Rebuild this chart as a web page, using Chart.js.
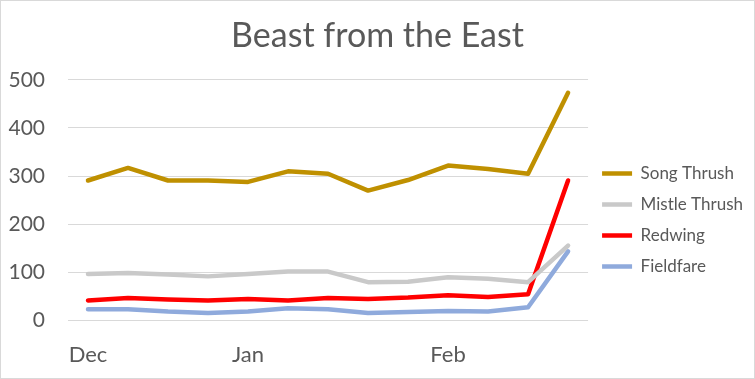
<!DOCTYPE html>
<html>
<head>
<meta charset="utf-8">
<script src="https://cdn.jsdelivr.net/npm/chart.js@4/dist/chart.umd.min.js"></script>
<style>
  html, body { margin: 0; padding: 0; background: #fff; }
  #wrap { width: 755px; height: 379px; }
</style>
</head>
<body>
<div id="wrap"><canvas id="beastChart" width="755" height="379"></canvas></div>
<script>
// weekly counts, Dec -> end of Feb
const weeks = ['Dec', '', '', '', 'Jan', '', '', '', '', 'Feb', '', '', ''];
const songThrush   = [291, 317, 291, 291, 288, 310, 305, 270, 292, 322, 315, 305, 473];
const mistleThrush = [97, 99, 96, 92, 97, 102, 102, 80, 81, 90, 87, 80, 156];
const redwing      = [42, 47, 44, 42, 45, 42, 47, 45, 48, 53, 49, 55, 291];
const fieldfare    = [24, 24, 19, 16, 19, 26, 24, 16, 18, 20, 19, 28, 144];

const textGrey = '#595959';

const makeSet = (label, data, color) => ({
    label: label,
    data: data,
    borderColor: color,
    backgroundColor: color,
    borderWidth: 4.5,
    pointRadius: 0,
    tension: 0,
    borderCapStyle: 'round',
    borderJoinStyle: 'round'
});

const frame = {
    id: 'frame',
    beforeDraw(chart) {
        const ctx = chart.ctx;
        ctx.save();
        ctx.fillStyle = '#fff';
        ctx.fillRect(0, 0, chart.width, chart.height);
        ctx.strokeStyle = '#d9d9d9';
        ctx.lineWidth = 1;
        ctx.strokeRect(0.5, 0.5, chart.width - 1, chart.height - 1);
        ctx.restore();
    }
};

let chart = new Chart(document.getElementById('beastChart'), {
    type: 'line',
    data: {
        labels: weeks,
        datasets: [
            makeSet('Song Thrush', songThrush, '#bf9000'),
            makeSet('Mistle Thrush', mistleThrush, '#c9c9c9'),
            makeSet('Redwing', redwing, '#ff0000'),
            makeSet('Fieldfare', fieldfare, '#8faadc')
        ]
    },
    options: {
        responsive: false,
        animation: false,
        layout: { padding: { left: 2, right: 2, top: 10, bottom: 0 } },
        plugins: {
            title: {
                display: true,
                text: 'Beast from the East',
                color: textGrey,
                font: { family: 'Lato', size: 34, weight: 'normal' },
                padding: { top: 6, bottom: 23 }
            },
            legend: {
                position: 'right',
                align: 'start',
                title: {
                    display: true,
                    text: ' ',
                    font: { size: 10 },
                    padding: { top: 0, bottom: 129 }
                },
                labels: {
                    usePointStyle: true,
                    pointStyle: 'line',
                    pointStyleWidth: 30,
                    color: textGrey,
                    font: { family: 'Lato', size: 17 },
                    padding: 14,
                    boxHeight: 4
                }
            },
            tooltip: { enabled: false }
        },
        scales: {
            x: {
                offset: true,
                grid: { display: false, drawTicks: false },
                border: { display: false },
                afterFit: (scale) => {
                    scale.paddingLeft = 0;
                    scale.paddingRight = 0;
                    scale.height = 58.3;
                },
                ticks: {
                    autoSkip: false,
                    maxRotation: 0,
                    color: textGrey,
                    font: { family: 'Lato', size: 22 },
                    padding: 21
                }
            },
            y: {
                min: 0,
                max: 500,
                grid: { color: '#d9d9d9', drawTicks: false },
                border: { display: false },
                afterFit: (scale) => { scale.width = 66; },
                ticks: {
                    stepSize: 100,
                    color: textGrey,
                    font: { family: 'Lato', size: 21 },
                    padding: 23
                }
            }
        }
    },
    plugins: [frame]
});
</script>
</body>
</html>
